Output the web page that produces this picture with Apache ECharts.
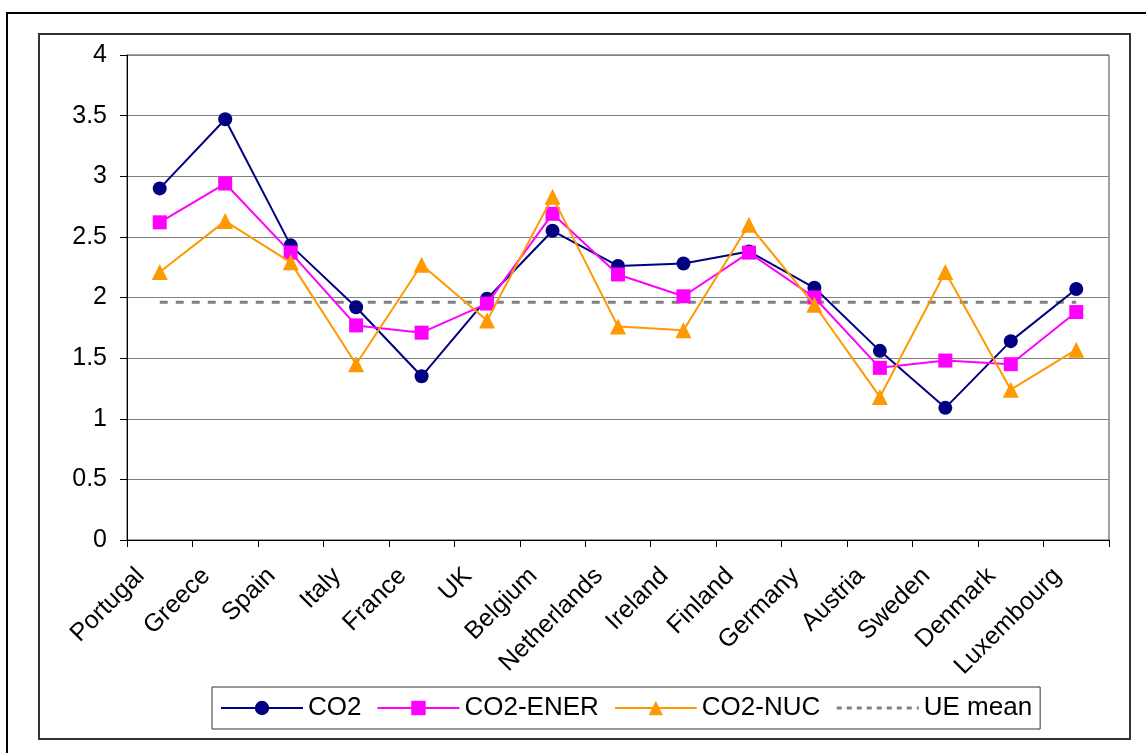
<!DOCTYPE html>
<html>
<head>
<meta charset="utf-8">
<script src="https://cdn.jsdelivr.net/npm/echarts@6/dist/echarts.min.js"></script>
<style>
  html, body { margin: 0; padding: 0; background: #fff; }
  #chart { width: 1146px; height: 753px; }
</style>
</head>
<body>
<div id="chart"></div>
<script>
// Countries along the category axis
const countries = ['Portugal', 'Greece', 'Spain', 'Italy', 'France', 'UK', 'Belgium',
  'Netherlands', 'Ireland', 'Finland', 'Germany', 'Austria', 'Sweden', 'Denmark', 'Luxembourg'];

// Indicator values per country
const co2     = [2.90, 3.47, 2.43, 1.92, 1.35, 1.99, 2.55, 2.26, 2.28, 2.38, 2.08, 1.56, 1.09, 1.64, 2.07];
const co2Ener = [2.62, 2.94, 2.37, 1.77, 1.71, 1.95, 2.69, 2.19, 2.01, 2.37, 2.00, 1.42, 1.48, 1.45, 1.88];
const co2Nuc  = [2.21, 2.63, 2.29, 1.45, 2.27, 1.81, 2.83, 1.76, 1.73, 2.60, 1.94, 1.18, 2.21, 1.24, 1.57];
const ueMean  = [1.96, 1.96, 1.96, 1.96, 1.96, 1.96, 1.96, 1.96, 1.96, 1.96, 1.96, 1.96, 1.96, 1.96, 1.96];

const FONT = '"Liberation Sans", Arial, sans-serif';

const chart = echarts.init(document.getElementById('chart'), null, { renderer: 'canvas' });

chart.setOption({
  backgroundColor: '#ffffff',
  animation: false,
  textStyle: { fontFamily: FONT },
  graphic: [
    { type: 'rect', z: 0, shape: { x: 7, y: 13, width: 1160, height: 770 },
      style: { fill: 'none', stroke: '#000', lineWidth: 2 } },
    { type: 'rect', z: 0, shape: { x: 39, y: 34, width: 1091, height: 705 },
      style: { fill: 'none', stroke: '#333', lineWidth: 2 } }
  ],
  grid: {
    left: 127, top: 55, right: 37, bottom: 213,
    show: true, borderColor: '#404040', borderWidth: 1, backgroundColor: 'transparent'
  },
  legend: {
    left: 212, top: 687,
    padding: [8, 8],
    itemGap: 15,
    itemWidth: 82,
    itemHeight: 18,
    borderColor: '#333',
    borderWidth: 1,
    textStyle: { fontFamily: FONT, fontSize: 26, color: '#000' },
    data: [
      'CO2', 'CO2-ENER', 'CO2-NUC',
      { name: 'UE mean', itemStyle: { opacity: 0 }, lineStyle: { type: [5, 5], width: 3 } }
    ]
  },
  xAxis: {
    type: 'category',
    data: countries,
    boundaryGap: true,
    axisLine: { lineStyle: { color: '#000', width: 1 } },
    axisTick: { show: true, length: 7, lineStyle: { color: '#000' } },
    axisLabel: {
      rotate: 45, margin: 13, padding: [0, 27, 0, 0],
      fontSize: 25, color: '#000', fontFamily: FONT, interval: 0
    },
    splitLine: { show: false }
  },
  yAxis: {
    type: 'value',
    min: 0, max: 4, interval: 0.5,
    axisLine: { show: true, lineStyle: { color: '#000', width: 1 } },
    axisTick: { show: true, length: 7, lineStyle: { color: '#000' } },
    axisLabel: { margin: 20, fontSize: 25, color: '#000', fontFamily: FONT },
    splitLine: { show: true, lineStyle: { color: '#808080', width: 1 } }
  },
  series: [
    {
      name: 'CO2', type: 'line', data: co2,
      symbol: 'circle', symbolSize: 14,
      lineStyle: { color: '#000080', width: 2 },
      itemStyle: { color: '#000080' }, z: 3
    },
    {
      name: 'CO2-ENER', type: 'line', data: co2Ener,
      symbol: 'rect', symbolSize: 14,
      lineStyle: { color: '#FF00FF', width: 2 },
      itemStyle: { color: '#FF00FF' }, z: 4
    },
    {
      name: 'CO2-NUC', type: 'line', data: co2Nuc,
      symbol: 'triangle', symbolSize: 16,
      lineStyle: { color: '#FF9900', width: 2 },
      itemStyle: { color: '#FF9900' }, z: 5
    },
    {
      name: 'UE mean', type: 'line', data: ueMean,
      symbol: 'none',
      lineStyle: { color: '#808080', width: 3, type: [8, 8] },
      itemStyle: { color: '#808080' }, z: 2
    }
  ]
});
</script>
</body>
</html>
